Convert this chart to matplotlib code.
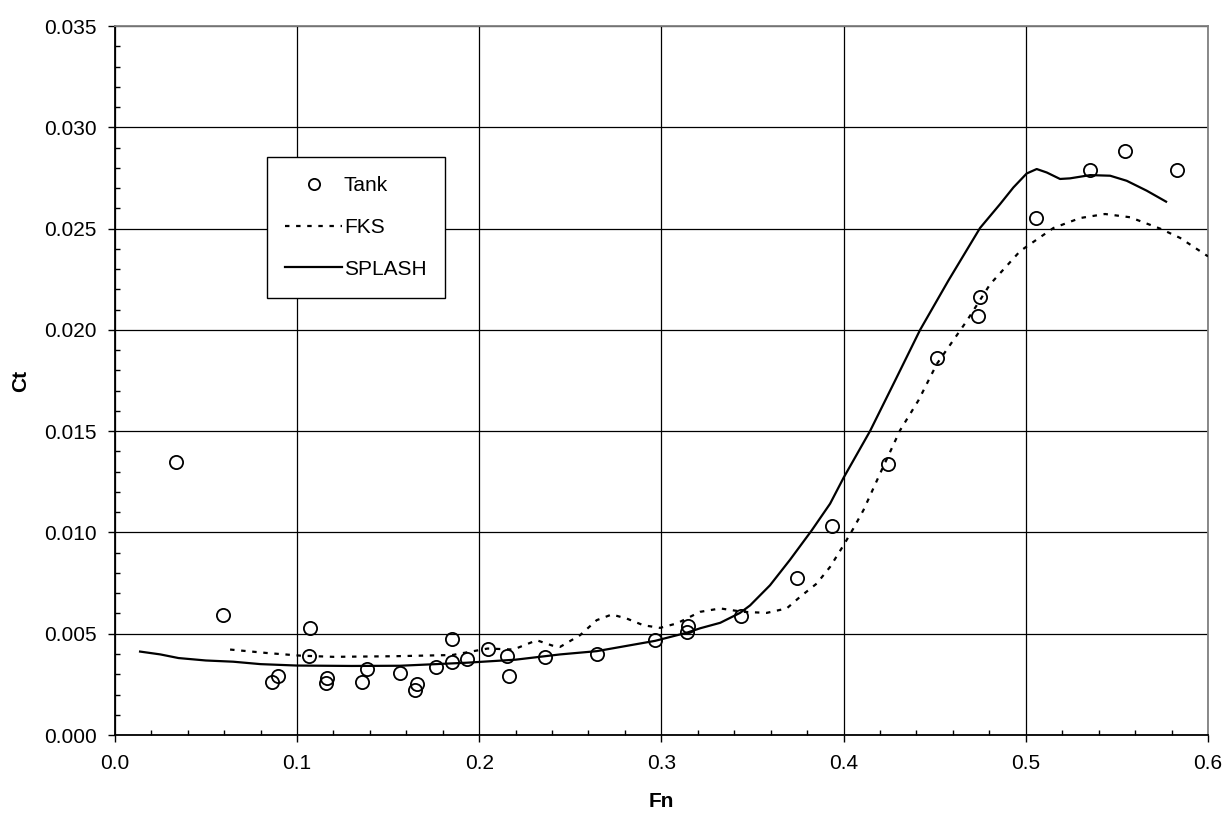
import numpy as np
import matplotlib
matplotlib.use("Agg")
import matplotlib.pyplot as plt
from matplotlib.ticker import MultipleLocator, FormatStrFormatter

plt.rcParams['font.family'] = ['Liberation Sans', 'DejaVu Sans']

# Tank measurements
tank_fn = [0.0336, 0.0596, 0.0862, 0.0898, 0.1072, 0.1066, 0.1163, 0.1158,
           0.1355, 0.1387, 0.1566, 0.1648, 0.1657, 0.1763, 0.1853, 0.1853,
           0.1935, 0.2047, 0.2153, 0.2166, 0.2363, 0.2647, 0.2966, 0.3139,
           0.3148, 0.3439, 0.3743, 0.3939, 0.4244, 0.4513, 0.4737, 0.4749,
           0.5055, 0.5353, 0.5545, 0.5832]
tank_ct = [0.01349, 0.00592, 0.00260, 0.00293, 0.00528, 0.00388, 0.00280, 0.00255,
           0.00262, 0.00326, 0.00308, 0.00224, 0.00252, 0.00334, 0.00475, 0.00362,
           0.00375, 0.00423, 0.00390, 0.00291, 0.00387, 0.00400, 0.00467, 0.00507,
           0.00536, 0.00589, 0.00775, 0.01032, 0.01339, 0.01859, 0.02068, 0.02160,
           0.02550, 0.02790, 0.02883, 0.02789]

# FKS prediction
fks_fn = [0.0633, 0.0834, 0.1017, 0.1200, 0.1530, 0.1853, 0.2047, 0.2188,
          0.2316, 0.2400, 0.2444, 0.2554, 0.2645, 0.2728, 0.2810, 0.2901,
          0.2993, 0.3085, 0.3212, 0.3323, 0.3450, 0.3578, 0.3688, 0.3761,
          0.3853, 0.3926, 0.4000, 0.4054, 0.4109, 0.4200, 0.4310, 0.4411,
          0.4512, 0.4676, 0.4804, 0.4969, 0.5152, 0.5298, 0.5435, 0.5572,
          0.5737, 0.5847, 0.6000]
fks_ct = [0.00422, 0.00405, 0.00392, 0.00386, 0.00389, 0.00395, 0.00427, 0.00422,
          0.00468, 0.00442, 0.00435, 0.00493, 0.00567, 0.00595, 0.00575, 0.00542,
          0.00529, 0.00551, 0.00608, 0.00625, 0.00608, 0.00603, 0.00625, 0.00682,
          0.00748, 0.00830, 0.00937, 0.01020, 0.01110, 0.01290, 0.01504, 0.01652,
          0.01832, 0.02044, 0.02225, 0.02389, 0.02503, 0.02552, 0.02572, 0.02556,
          0.02500, 0.02454, 0.02363]

# SPLASH prediction
spl_fn = [0.0139, 0.0250, 0.0350, 0.0500, 0.0650, 0.0800, 0.1000, 0.1300,
          0.1566, 0.1932, 0.2200, 0.2445, 0.2645, 0.2966, 0.3139, 0.3213,
          0.3323, 0.3432, 0.3487, 0.3596, 0.3706, 0.3825, 0.3926, 0.4000,
          0.4145, 0.4283, 0.4420, 0.4575, 0.4749, 0.4859, 0.4932, 0.5005,
          0.5060, 0.5115, 0.5188, 0.5243, 0.5353, 0.5463, 0.5554, 0.5664,
          0.5770]
spl_ct = [0.00412, 0.00398, 0.00380, 0.00368, 0.00362, 0.00350, 0.00343, 0.00341,
          0.00342, 0.00357, 0.00372, 0.00398, 0.00414, 0.00465, 0.00505, 0.00527,
          0.00554, 0.00603, 0.00640, 0.00739, 0.00865, 0.01010, 0.01142, 0.01270,
          0.01500, 0.01750, 0.02000, 0.02243, 0.02503, 0.02621, 0.02703, 0.02772,
          0.02794, 0.02777, 0.02745, 0.02748, 0.02764, 0.02761, 0.02736, 0.02687,
          0.02633]

fig = plt.figure(figsize=(12.26, 8.13), dpi=100)
ax = fig.add_axes([0.0936, 0.0959, 0.8917, 0.8721])

ax.plot(tank_fn, tank_ct, linestyle='none', marker='o', markersize=9.5,
        markerfacecolor='none', markeredgecolor='black', markeredgewidth=1.3,
        label='Tank', zorder=4)
ax.plot(fks_fn, fks_ct, color='black', linestyle=(0, (2, 3)), linewidth=1.6,
        label='FKS', zorder=3)
ax.plot(spl_fn, spl_ct, color='black', linestyle='-', linewidth=1.6,
        label='SPLASH', zorder=3)

ax.set_xlim(0, 0.6)
ax.set_ylim(0, 0.035)
ax.xaxis.set_major_locator(MultipleLocator(0.1))
ax.xaxis.set_minor_locator(MultipleLocator(0.02))
ax.yaxis.set_major_locator(MultipleLocator(0.005))
ax.yaxis.set_minor_locator(MultipleLocator(0.001))
ax.xaxis.set_major_formatter(FormatStrFormatter('%.1f'))
ax.yaxis.set_major_formatter(FormatStrFormatter('%.3f'))
ax.tick_params(which='major', direction='out', length=5, width=1, labelsize=15,
               colors='black')
ax.tick_params(axis='x', which='major', pad=9)
ax.tick_params(axis='y', which='major', pad=8)
ax.tick_params(which='minor', direction='in', length=3.4, width=1)
ax.grid(True, which='major', color='black', linewidth=0.9)

for side in ['left', 'bottom']:
    ax.spines[side].set_linewidth(1.3)
for side in ['top', 'right']:
    ax.spines[side].set_color('#808080')
    ax.spines[side].set_linewidth(1.3)

ax.set_xlabel('Fn', fontsize=15, fontweight='bold', labelpad=13)
ax.set_ylabel('Ct', fontsize=15, fontweight='bold', labelpad=10)

leg = ax.legend(loc='upper left', bbox_to_anchor=(0.139, 0.815), fontsize=15,
                frameon=True, fancybox=False, framealpha=1, edgecolor='black',
                borderpad=0.9, labelspacing=1.1, handlelength=2.7,
                handletextpad=0.1, borderaxespad=0, markerscale=0.85)
leg.get_frame().set_linewidth(1.0)

fig.savefig('out.png', dpi=100)
